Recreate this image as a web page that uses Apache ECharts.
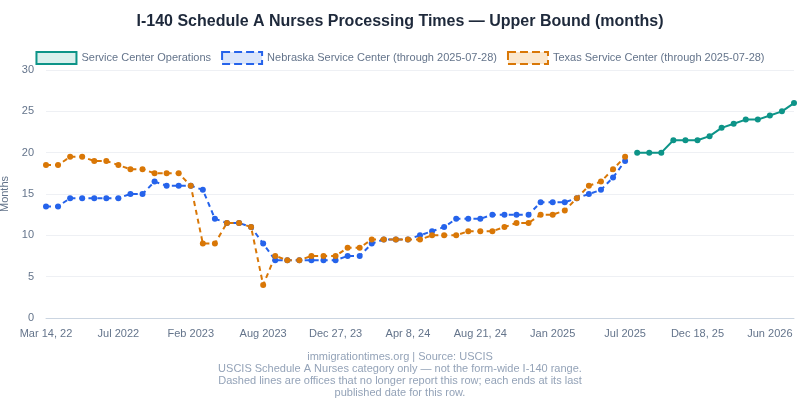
<!DOCTYPE html>
<html>
<head>
<meta charset="utf-8">
<script src="https://cdn.jsdelivr.net/npm/echarts@6/dist/echarts.min.js"></script>
<style>html,body{margin:0;padding:0;background:#fff}#main{width:800px;height:400px}</style>
</head>
<body>
<div id="main"></div>
<script>
// 63 evenly spaced report dates; only every 6th one is labelled on the axis
const tickLabels = {0:'Mar 14, 22',6:'Jul 2022',12:'Feb 2023',18:'Aug 2023',24:'Dec 27, 23',30:'Apr 8, 24',36:'Aug 21, 24',42:'Jan 2025',48:'Jul 2025',54:'Dec 18, 25',60:'Jun 2026'};
const categories = [];
for (let i = 0; i < 63; i++) categories.push(tickLabels[i] || ('p' + i));

const nebraska = [13.5,13.5,14.5,14.5,14.5,14.5,14.5,15,15,16.5,16,16,16,15.5,12,11.5,11.5,11,9,7,7,7,7,7,7,7.5,7.5,9,9.5,9.5,9.5,10,10.5,11,12,12,12,12.5,12.5,12.5,12.5,14,14,14,14.5,15,15.5,17,19];
const texas = [18.5,18.5,19.5,19.5,19,19,18.5,18,18,17.5,17.5,17.5,16,9,9,11.5,11.5,11,4,7.5,7,7,7.5,7.5,7.5,8.5,8.5,9.5,9.5,9.5,9.5,9.5,10,10,10,10.5,10.5,10.5,11,11.5,11.5,12.5,12.5,13,14.5,16,16.5,18,19.5];
const operations = [20,20,20,21.5,21.5,21.5,22,23,23.5,24,24,24.5,25,26];

const opsData = new Array(49).fill('-').concat(operations);

const chart = echarts.init(document.getElementById('main'));
const footer = 'immigrationtimes.org | Source: USCIS\nUSCIS Schedule A Nurses category only — not the form-wide I-140 range.\nDashed lines are offices that no longer report this row; each ends at its last\npublished date for this row.';
chart.setOption({
  textStyle: {fontFamily: 'Liberation Sans, Arial, sans-serif'},
  title: {
    text: 'I-140 Schedule A Nurses Processing Times — Upper Bound (months)',
    left: 'center', top: 9,
    textStyle: {fontSize: 16, fontWeight: 'bold', color: '#1e293b'}
  },
  graphic: [{
    type: 'text', x: 400, y: 351,
    style: {text: footer, align: 'center', fill: '#94a3b8', fontSize: 11, lineHeight: 12,
      fontFamily: 'Liberation Sans, Arial, sans-serif'}
  }],
  legend: {
    top: 46, left: 'center', itemWidth: 40, itemHeight: 12, itemGap: 10,
    textStyle: {color: '#64748b', fontSize: 11},
    data: [
      {name: 'Service Center Operations', icon: 'rect', itemStyle: {color: '#d9f0ed', borderColor: '#0d9488', borderWidth: 2}},
      {name: 'Nebraska Service Center (through 2025-07-28)', icon: 'rect', itemStyle: {color: '#dbe6fb', borderColor: '#2563eb', borderWidth: 2, borderType: 'dashed'}},
      {name: 'Texas Service Center (through 2025-07-28)', icon: 'rect', itemStyle: {color: '#fbe8cf', borderColor: '#d97706', borderWidth: 2, borderType: 'dashed'}}
    ]
  },
  grid: {left: 46, right: 6, top: 70, bottom: 82, containLabel: false, outerBoundsMode: 'none'},
  xAxis: {
    type: 'category', data: categories, boundaryGap: false,
    axisLine: {lineStyle: {color: '#cbd5e1'}},
    axisTick: {show: false},
    axisLabel: {interval: 0, color: '#64748b', fontSize: 11, margin: 10,
      formatter: (v, i) => tickLabels[i] || ''}
  },
  yAxis: {
    type: 'value', min: 0, max: 30, interval: 5,
    name: 'Months', nameLocation: 'middle', nameGap: 30,
    nameTextStyle: {color: '#64748b', fontSize: 11},
    axisLabel: {color: '#64748b', fontSize: 11, margin: 12},
    splitLine: {lineStyle: {color: '#eef0f4'}}
  },
  series: [
    {name: 'Service Center Operations', type: 'line', data: opsData, color: '#0d9488',
      symbol: 'circle', symbolSize: 6, lineStyle: {width: 2}},
    {name: 'Nebraska Service Center (through 2025-07-28)', type: 'line', data: nebraska, color: '#2563eb',
      symbol: 'circle', symbolSize: 6, lineStyle: {width: 2, type: [5, 4]}},
    {name: 'Texas Service Center (through 2025-07-28)', type: 'line', data: texas, color: '#d97706',
      symbol: 'circle', symbolSize: 6, lineStyle: {width: 2, type: [5, 4]}}
  ]
});
</script>
</body>
</html>
